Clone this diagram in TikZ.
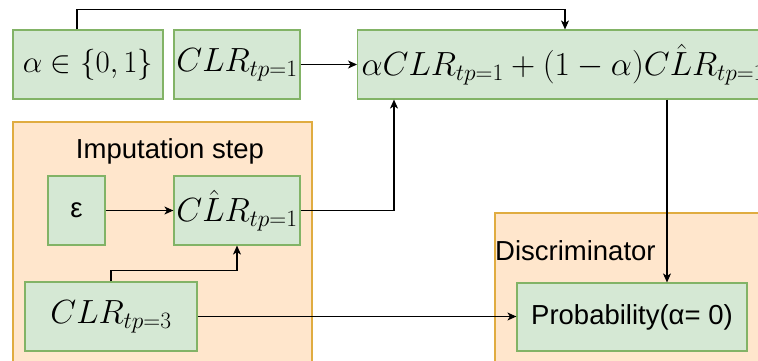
\RequirePackage{fix-cm}
\documentclass[tikz,border=0pt]{standalone}
\usepackage{fontspec}
\setmainfont{Liberation Sans}
\usetikzlibrary{arrows.meta,calc}

\definecolor{boxfill}{HTML}{D5E8D4}
\definecolor{boxline}{HTML}{82B366}
\definecolor{grpfill}{HTML}{FFE6CC}
\definecolor{grpline}{HTML}{E0AC40}

\tikzset{
  greenbox/.style={draw=boxline, fill=boxfill, line width=1.2pt, inner sep=4pt,
    minimum height=69pt},
  group/.style={draw=grpline, fill=grpfill, line width=1.2pt},
  mathtxt/.style={font=\fontsize{33.5}{40}\selectfont, inner xsep=1.5pt},
  smallmath/.style={font=\fontsize{31}{37}\selectfont},
  sanstxt/.style={font=\fontsize{27.5}{32}\selectfont},
  arr/.style={draw=black, line width=1.1pt, -{Stealth[length=9pt,width=8pt,inset=2.5pt]}},
}

\begin{document}
\begin{tikzpicture}[x=1pt, y=-1pt]
\useasboundingbox (0,0) rectangle (758,360);
\clip (0,0) rectangle (758,360);

% group containers
\path[group] (13,122) rectangle (312,372);
\path[group] (495,213) rectangle (775,372);
\node[sanstxt, anchor=center] (imptitle) at (170,151) {Imputation step};
\node[sanstxt, anchor=west, inner sep=0pt] (disctitle) at (495,251) {Discriminator};

% top row
\node[greenbox, smallmath, minimum width=150pt] (alpha) at (88,64.5) {$\alpha\in\{0,1\}$};
\node[greenbox, mathtxt, minimum width=126pt] (clr) at (237,64.5) {$CLR_{tp=1}$};
\node[greenbox, mathtxt, inner xsep=4pt, anchor=west] (big) at (357,64.5)
  {$\alpha CLR_{tp=1}+(1-\alpha)C\hat{L}R_{tp=1}$};

% imputation step
\node[greenbox, sanstxt, minimum width=57pt] (eps) at (76.5,210.5) {ε};
\node[greenbox, mathtxt, minimum width=126pt] (clrhat) at (237,210.5) {$C\hat{L}R_{tp=1}$};
\node[greenbox, mathtxt, minimum width=172pt] (clr3) at (111,316.5) {$CLR_{tp=3}$};

% discriminator
\node[greenbox, sanstxt, minimum width=230pt, minimum height=68pt] (prob) at (632,317) {Probability(α= 0)};

% connector anchors on the combined box
\coordinate (bigtop) at ([xshift=208pt]big.north west);
\coordinate (bigin) at ([xshift=37pt]big.south west);
\coordinate (bigout) at ([xshift=310pt]big.south west);

% connectors
\draw[arr] ([xshift=-11pt]alpha.north) -- ++(0,-20) -| (bigtop);
\draw[arr] (clr.east) -- (big.west);
\draw[arr] (eps.east) -- (clrhat.west);
\draw[arr] (clrhat.east) -| (bigin);
\draw[arr] (clr3.north) -- ++(0,-11) -| (clrhat.south);
\draw[arr] (clr3.east) -- (clr3.east -| prob.west);
\draw[arr] (bigout) -- (bigout |- prob.north);
\end{tikzpicture}
\end{document}
